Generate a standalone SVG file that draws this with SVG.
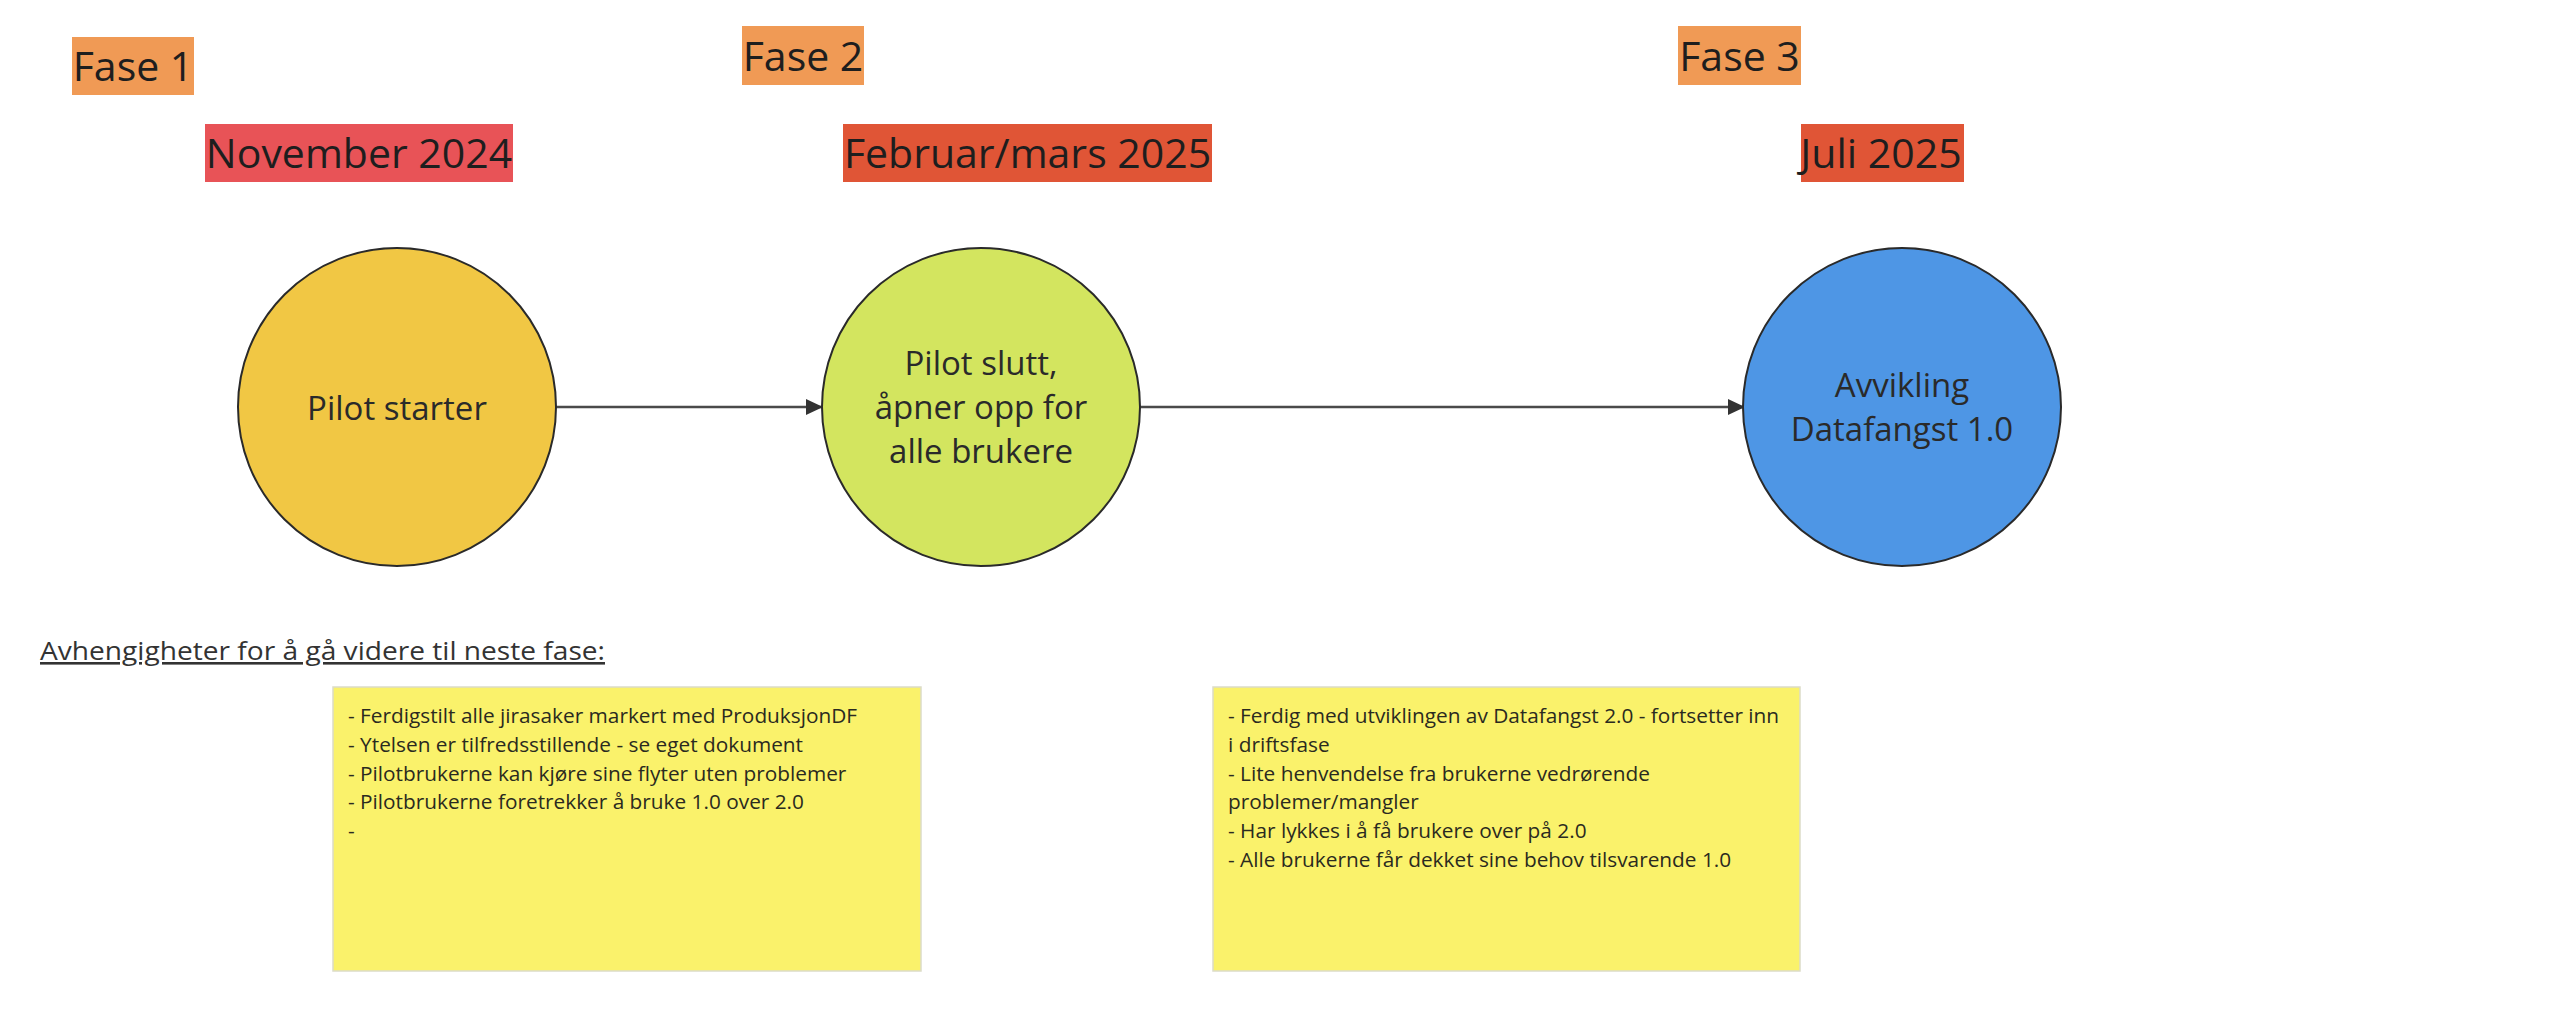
<svg xmlns="http://www.w3.org/2000/svg" width="2576" height="1022" viewBox="0 0 2576 1022">
  <style>
    .lbl { font-family: "Open Sans", "Liberation Sans", sans-serif; font-size: 41px; fill: #1e1e1e; text-anchor: middle; }
    .fase { fill: #F09A55; }
    .nov { fill: #E85357; }
    .date { fill: #E05536; }
    .circ { stroke: #2a2a2a; stroke-width: 2; }
    .ctext { font-family: "Open Sans", "Liberation Sans", sans-serif; font-size: 33px; fill: #2a2a2a; text-anchor: middle; }
    .conn { stroke: #4a4a4a; stroke-width: 2.5; fill: none; }
    .sticky { fill: #FAF26B; stroke: #dcdcc8; stroke-width: 1.5; }
    .stext { font-family: "Open Sans", "Liberation Sans", sans-serif; font-size: 20.8px; fill: #2a2a20; }
    .head { font-family: "Open Sans", "Liberation Sans", sans-serif; font-size: 26px; fill: #333333; text-decoration: underline; }
  </style>
  <defs>
    <marker id="arrow" viewBox="0 0 17 16" refX="17" refY="8" markerWidth="17" markerHeight="16" markerUnits="userSpaceOnUse" orient="auto">
      <path d="M0,0 L17,8 L0,16 z" fill="#333333"/>
    </marker>
  </defs>
  <rect width="2576" height="1022" fill="#ffffff"/>

  <g id="fase1">
    <rect class="fase" x="72" y="37" width="122" height="58"/>
    <text class="lbl" x="133" y="81">Fase 1</text>
  </g>
  <g id="fase2">
    <rect class="fase" x="742" y="26" width="122" height="59"/>
    <text class="lbl" x="803" y="70.5">Fase 2</text>
  </g>
  <g id="fase3">
    <rect class="fase" x="1678" y="26" width="123" height="59"/>
    <text class="lbl" x="1739.5" y="70.5">Fase 3</text>
  </g>

  <g id="date-nov">
    <rect class="nov" x="205" y="124" width="308" height="58"/>
    <text class="lbl" x="359" y="168">November 2024</text>
  </g>
  <g id="date-feb">
    <rect class="date" x="843" y="124" width="369" height="58"/>
    <text class="lbl" x="1027.5" y="168">Februar/mars 2025</text>
  </g>
  <g id="date-jul">
    <rect class="date" x="1801" y="124" width="163" height="58"/>
    <text class="lbl" x="1881" y="168">Juli 2025</text>
  </g>

  <g id="connectors">
    <line class="conn" x1="556" y1="407" x2="823" y2="407" marker-end="url(#arrow)"/>
    <line class="conn" x1="1140" y1="407" x2="1745" y2="407" marker-end="url(#arrow)"/>
  </g>

  <g id="pilot-starter">
    <circle class="circ" cx="397" cy="407" r="159" fill="#F1C744"/>
    <text class="ctext" x="397" y="420">Pilot starter</text>
  </g>
  <g id="pilot-slutt">
    <circle class="circ" cx="981" cy="407" r="159" fill="#D3E55F"/>
    <text class="ctext" x="981" y="375">Pilot slutt,</text>
    <text class="ctext" x="981" y="419">åpner opp for</text>
    <text class="ctext" x="981" y="463">alle brukere</text>
  </g>
  <g id="avvikling">
    <circle class="circ" cx="1902" cy="407" r="159" fill="#4E96E5"/>
    <text class="ctext" x="1902" y="397">Avvikling</text>
    <text class="ctext" x="1902" y="441">Datafangst 1.0</text>
  </g>

  <g id="heading">
    <text class="head" x="40" y="660" textLength="565" lengthAdjust="spacingAndGlyphs">Avhengigheter for å gå videre til neste fase:</text>
  </g>

  <g id="sticky-1">
    <rect class="sticky" x="333" y="687" width="588" height="284"/>
    <text class="stext" x="348" y="723">- Ferdigstilt alle jirasaker markert med ProduksjonDF</text>
    <text class="stext" x="348" y="752">- Ytelsen er tilfredsstillende - se eget dokument</text>
    <text class="stext" x="348" y="780.5">- Pilotbrukerne kan kjøre sine flyter uten problemer</text>
    <text class="stext" x="348" y="809">- Pilotbrukerne foretrekker å bruke 1.0 over 2.0</text>
    <text class="stext" x="348" y="838">-</text>
  </g>
  <g id="sticky-2">
    <rect class="sticky" x="1213" y="687" width="587" height="284"/>
    <text class="stext" x="1228" y="723">- Ferdig med utviklingen av Datafangst 2.0 - fortsetter inn</text>
    <text class="stext" x="1228" y="752">i driftsfase</text>
    <text class="stext" x="1228" y="780.5">- Lite henvendelse fra brukerne vedrørende</text>
    <text class="stext" x="1228" y="809">problemer/mangler</text>
    <text class="stext" x="1228" y="838">- Har lykkes i å få brukere over på 2.0</text>
    <text class="stext" x="1228" y="867">- Alle brukerne får dekket sine behov tilsvarende 1.0</text>
  </g>
</svg>
